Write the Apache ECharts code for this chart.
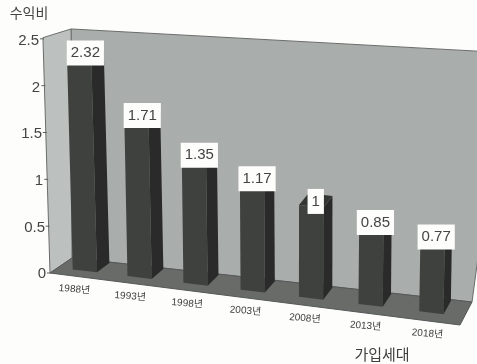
<!DOCTYPE html>
<html>
<head>
<meta charset="utf-8">
<style>html,body{margin:0;padding:0;background:#fdfdfc}#c{width:477px;height:364px}</style>
<script src="https://cdn.jsdelivr.net/npm/echarts@6/dist/echarts.min.js"></script>
</head>
<body>
<div id="c"></div>
<script>
const categories = ['1988년','1993년','1998년','2003년','2008년','2013년','2018년'];
const ratios = [2.32, 1.71, 1.35, 1.17, 1, 0.85, 0.77];
const yTicks = [0, 0.5, 1, 1.5, 2, 2.5];

const FONT = '"Liberation Sans","Noto Sans CJK KR",sans-serif';
const GRID = {left: 50, top: 41, width: 408, height: 233, outerBoundsMode: 'none'};
const FLOOR_SPAN = 410;

// Perspective floor: t runs along the front edge, d runs from front (0) to back wall (1).
function floor(t, d) {
  const fx = 50 + 410 * t, fy = 273 + 52 * t;
  const bx = 72 + 400 * t, by = 258 + 44 * t;
  return [fx + (bx - fx) * d, fy + (by - fy) * d];
}
function lift(p, h, tilt) {
  return [p[0] + h * tilt, p[1] - h];
}
const barTilt = t => -0.03 + 0.05 * t;
// Categories spread out towards the near (right) end of the floor.
const foreshorten = t => t - 0.073 * t * (1 - t);

function renderFrame(params, api) {
  const full = api.coord([0, 0])[1] - api.coord([0, 2.5])[1];
  const fl = floor(0, 0), bl = floor(0, 1), br = floor(1, 1), fr = floor(1, 0);
  const frontTop = lift(fl, full * 1.01, -0.03);
  const backTopL = lift(bl, full * 0.983, -0.004);
  const backTopR = lift(br, full * 1.07, 0.135);
  const edge = {stroke: '#5d605e', lineWidth: 1};
  const children = [
    {type: 'polygon', shape: {points: [bl, backTopL, backTopR, br]},
     style: {fill: '#a9adab', stroke: '#6a6d6b', lineWidth: 1}},
    {type: 'polygon', shape: {points: [fl, frontTop, backTopL, bl]},
     style: {fill: '#bcc0be', stroke: '#6a6d6b', lineWidth: 1}},
    {type: 'polygon', shape: {points: [fl, bl, br, fr]},
     style: {fill: '#686b67', stroke: '#55585a', lineWidth: 1}}
  ];
  yTicks.forEach(v => {
    const h = api.coord([0, 0])[1] - api.coord([0, v])[1];
    const p = lift(fl, h * 1.005, -0.03);
    children.push({type: 'line', shape: {x1: p[0] - 3, y1: p[1], x2: p[0] + 1, y2: p[1]}, style: edge});
  });
  return {type: 'group', children};
}

function renderBar(params, api) {
  const i = api.value(0), v = api.value(1);
  const centre = api.coord([i, 0])[0];
  const t = foreshorten((centre - GRID.left) / FLOOR_SPAN);
  const half = api.size([1, 0])[0] * 0.21 / FLOOR_SPAN;
  const h = (api.coord([i, 0])[1] - api.coord([i, v])[1]) * 0.985;
  const tilt = barTilt(t);
  const dF = 0.36, dB = 0.95;
  const a = floor(t - half, dF), b = floor(t + half, dF), c = floor(t + half, dB), e = floor(t - half, dB);
  const aT = lift(a, h, tilt), bT = lift(b, h, tilt), cT = lift(c, h, tilt), eT = lift(e, h, tilt);
  const label = floor(t, 0);
  const topMid = [(aT[0] + cT[0]) / 2, aT[1]];
  const text = String(v);
  return {type: 'group', children: [
    {type: 'polygon', shape: {points: [a, aT, bT, b]}, style: {fill: '#3f413f'}},
    {type: 'polygon', shape: {points: [b, bT, cT, c]}, style: {fill: '#292a29'}},
    {type: 'polygon', shape: {points: [aT, eT, cT, bT]}, style: {fill: '#343634'}},
    {type: 'text', x: topMid[0], y: aT[1] - 3.5,
     style: {text, font: '15px ' + FONT, fill: '#444', align: 'center', verticalAlign: 'middle',
             backgroundColor: '#fdfdfc', padding: [5, 4]}},
    {type: 'text', x: label[0] - 3 + 4 * t, y: label[1] + 13, rotation: -0.08,
     style: {text: categories[i], font: '10px ' + FONT, fill: '#3f3f3f', align: 'center', verticalAlign: 'middle'}}
  ]};
}

const rich = {};
yTicks.forEach((v, idx) => {
  rich['t' + idx] = {fontFamily: FONT, fontSize: 15, color: '#444', padding: [0, Math.round(2.8 * v) + 1, 0, 0]};
});

const chart = echarts.init(document.getElementById('c'), null, {renderer: 'canvas'});
chart.setOption({
  animation: false,
  backgroundColor: '#fdfdfc',
  grid: GRID,
  xAxis: {
    type: 'category', data: categories,
    axisLine: {show: false}, axisTick: {show: false}, axisLabel: {show: false}, splitLine: {show: false},
    name: '가입세대', nameLocation: 'middle', nameGap: 74,
    nameTextStyle: {fontFamily: FONT, fontSize: 15, color: '#3f3f3f', padding: [0, 0, 0, 256]}
  },
  yAxis: {
    type: 'value', min: 0, max: 2.5, interval: 0.5,
    axisLine: {show: false}, axisTick: {show: false}, splitLine: {show: false},
    axisLabel: {margin: 3, formatter: (val) => `{t${yTicks.indexOf(val)}|${val}}`, rich},
    name: '수익비', nameLocation: 'end', nameGap: 20,
    nameTextStyle: {fontFamily: FONT, fontSize: 14, color: '#444', align: 'center', padding: [0, 42, 0, 0]}
  },
  series: [
    {type: 'custom', renderItem: renderFrame, data: [[0, 0]], silent: true, z: 1},
    {type: 'custom', renderItem: renderBar, encode: {x: 0, y: 1},
     data: ratios.map((v, i) => [i, v]), silent: true, z: 2}
  ]
});
</script>
</body>
</html>
